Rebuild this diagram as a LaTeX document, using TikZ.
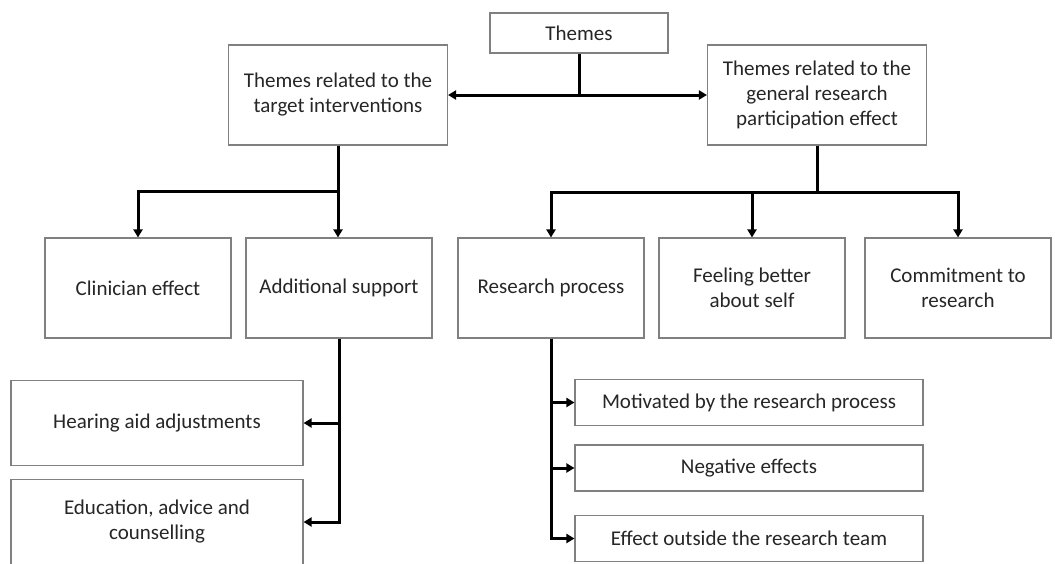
\documentclass[tikz,border=0pt]{standalone}
\usepackage{fontspec}
\setmainfont{Carlito}
\usepackage{tikz}
\usetikzlibrary{arrows.meta,calc}

\begin{document}
\begin{tikzpicture}[
  x=1pt,y=-1pt,
  font=\fontsize{21}{25}\selectfont,
  >={Triangle[length=8pt,width=9pt]},
  %--- node styles ---
  box/.style  ={draw=black!50,line width=1.1pt,fill=white,text=black!85,
                align=center,inner sep=2pt},
  head/.style ={box,minimum width=219pt,minimum height=100pt},
  cat/.style  ={box,minimum width=186pt,minimum height=100pt},
  sub/.style  ={box,minimum width=292pt,minimum height=85pt},
  item/.style ={box,minimum width=348pt,minimum height=46pt},
  %--- connector styles ---
  link/.style ={line width=3pt,draw=black},
  arr/.style  ={->,line width=3pt,draw=black},
]
\useasboundingbox (0,0) rectangle (1055,563);

%==================== nodes ====================
\node[box,minimum width=178pt,minimum height=40pt] (themes) at (579,33) {Themes};
\node[head] (tint) at (338,95) {Themes related to the\\target interventions};
\node[head] (tgen) at (817,95) {Themes related to the\\general research\\participation effect};

\node[cat] (clin)    at (138,288) {Clinician effect};
\node[cat] (addsup)  at (339,288) {Additional support};
\node[cat] (resproc) at (551,288) {Research process};
\node[cat] (feel)    at (752,288) {Feeling better\\about self};
\node[cat] (commit)  at (958,288) {Commitment to\\research};

\node[sub] (hearing) at (157,423) {Hearing aid adjustments};
\node[sub] (educ)    at (157,522) {Education, advice and\\counselling};

\node[item] (motiv)   at (749,402.5) {Motivated by the research process};
\node[item] (neg)     at (749,468)   {Negative effects};
\node[item] (outside) at (749,538.5) {Effect outside the research team};

%==================== top split ====================
\draw[link] (themes.south) -- (themes.south |- tint.east);
\draw[<->,link] (tint.east) -- (tgen.west);

%==================== target interventions ====================
\coordinate (lj) at ($(tint.south)+(0,46)$);
\draw[arr] (tint.south) -- (lj) -| (clin.north);
\draw[arr] (lj) -- (lj |- addsup.north);
\draw[arr] (addsup.south) |- (hearing.east);
\draw[arr] (addsup.south) |- (educ.east);

%==================== research participation ====================
\coordinate (rj) at ($(tgen.south)+(0,47)$);
\draw[arr] (tgen.south) -- (rj) -| (resproc.north);
\draw[arr] (rj) -| (feel.north);
\draw[arr] (rj) -| (commit.north);
\draw[arr] (resproc.south) |- (motiv.west);
\draw[arr] (resproc.south) |- (neg.west);
\draw[arr] (resproc.south) |- (outside.west);

\end{tikzpicture}
\end{document}
